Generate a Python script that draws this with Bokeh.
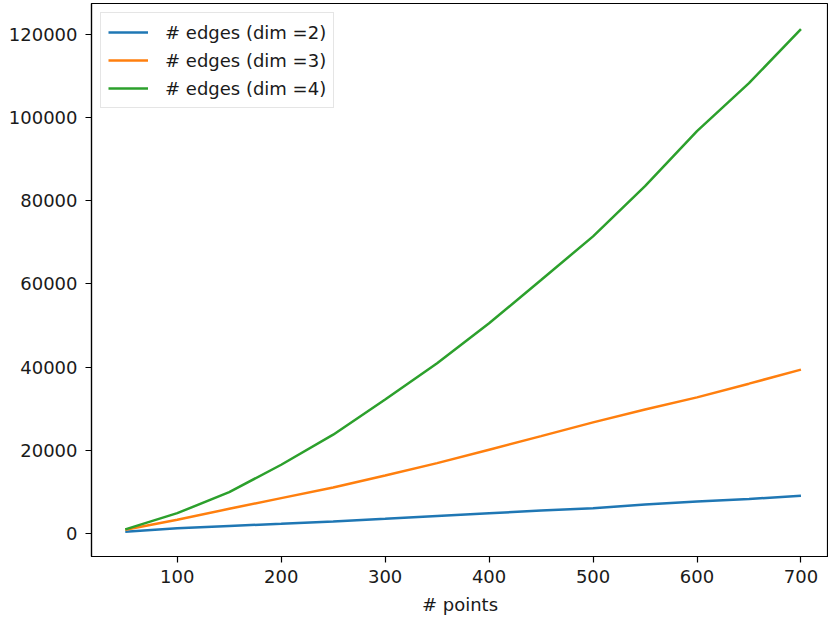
from bokeh.plotting import figure
from bokeh.embed import file_html
from bokeh.resources import INLINE
from bokeh.models import Range1d, FixedTicker, BasicTickFormatter, Legend, LegendItem

points = [50, 100, 150, 200, 250, 300, 350, 400, 450, 500, 550, 600, 650, 700]
edges_dim2 = [400, 1280, 1800, 2330, 2900, 3530, 4200, 4880, 5500, 6090, 6950, 7700, 8300, 9060]
edges_dim3 = [900, 3290, 5930, 8500, 11060, 13950, 16900, 20130, 23400, 26700, 29800, 32700, 36000, 39370]
edges_dim4 = [1000, 4880, 9930, 16520, 23740, 32200, 40900, 50500, 60900, 71400, 83450, 96700, 108200, 121200]
labels = ["# edges (dim =2)", "# edges (dim =3)", "# edges (dim =4)"]
colors = ["#1f77b4", "#ff7f0e", "#2ca02c"]
x_ticks = [100, 200, 300, 400, 500, 600, 700]
y_ticks = [0, 20000, 40000, 60000, 80000, 100000, 120000]

FONT = "DejaVu Sans"
FS = "18px"

p = figure(width=828, height=619, output_backend="svg", toolbar_location=None,
           x_range=Range1d(17.5, 726.5), y_range=Range1d(-5530, 127350),
           min_border_left=91, min_border_right=0, min_border_top=3, min_border_bottom=63)
p.xgrid.visible = False
p.ygrid.visible = False
p.outline_line_color = "black"
p.outline_line_width = 1.2
p.outline_line_alpha = 1.0
p.background_fill_color = "white"
p.border_fill_color = "white"

p.xaxis.ticker = FixedTicker(ticks=x_ticks)
p.yaxis.ticker = FixedTicker(ticks=y_ticks)
p.yaxis.formatter = BasicTickFormatter(use_scientific=False)
for ax in (p.xaxis, p.yaxis):
    ax.axis_line_color = "black"
    ax.axis_line_width = 1.2
    ax.major_tick_line_color = "black"
    ax.major_tick_line_width = 1.2
    ax.major_tick_out = 6
    ax.major_tick_in = 0
    ax.minor_tick_line_color = None
    ax.major_label_text_font = FONT
    ax.major_label_text_font_size = FS
    ax.major_label_text_color = "#1a1a1a"
    ax.axis_label_text_font = FONT
    ax.axis_label_text_font_size = FS
    ax.axis_label_text_font_style = "normal"
    ax.axis_label_text_color = "#1a1a1a"
p.xaxis.axis_label = "# points"
p.xaxis.major_label_standoff = 7
p.xaxis.axis_label_standoff = 8
p.yaxis.major_label_standoff = 8

items = []
for ys, lab, col in zip([edges_dim2, edges_dim3, edges_dim4], labels, colors):
    r = p.line(points, ys, line_color=col, line_width=2.5)
    items.append(LegendItem(label=lab, renderers=[r]))

legend = Legend(items=items, location="top_left")
legend.label_text_font = FONT
legend.label_text_font_size = FS
legend.label_text_color = "#1a1a1a"
legend.glyph_width = 40
legend.glyph_height = 24
legend.label_standoff = 17
legend.spacing = 4
legend.padding = 7
legend.margin = 9
legend.border_line_color = "#cccccc"
legend.border_line_width = 1
legend.background_fill_alpha = 0.8
p.add_layout(legend)

open("out.html", "w").write(file_html(p, INLINE))
